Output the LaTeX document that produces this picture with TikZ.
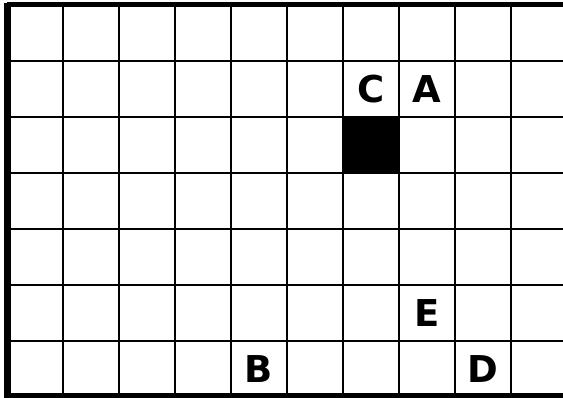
\documentclass[tikz,border=0pt]{standalone}
\usepackage{fontspec}
\newfontfamily\cellfont{DejaVu Sans}
\usetikzlibrary{positioning}
\tikzset{
  gridline/.style={draw=black,line width=2pt},
  frame/.style={draw=black,line width=5pt},
  blocked/.style={fill=black},
  letter/.style={font=\cellfont\bfseries\fontsize{37}{37}\selectfont,inner sep=0pt}}

\begin{document}
\begin{tikzpicture}[x=1pt,y=-1pt]
\useasboundingbox (0,0) rectangle (563,398);
\clip (0,0) rectangle (563,398);
\fill[white] (0,0) rectangle (563,398);
% blocked square, column 6 row 2
\fill[blocked] (343,117) rectangle (399,173);
% inner grid lines, 56 units apart
\foreach \i in {1,...,9}{\draw[gridline] (7+56*\i,5) -- (7+56*\i,396);}
\foreach \j in {1,...,6}{\draw[gridline] (7,5+56*\j) -- (563,5+56*\j);}
% outer frame (right side runs off the page)
\draw[frame] (563,5) -- (7,5);
\draw[frame] (7,396) -- (563,396);
\draw[draw=black,line width=7pt] (7.5,3) -- (7.5,398);
% letters at cell centres
\foreach \name/\c/\r in {C/6/1,A/7/1,E/7/5,B/4/6,D/8/6}{
  \node[letter] (cell\name) at (35+56*\c,33+56*\r) {\name};}
\end{tikzpicture}
\end{document}
